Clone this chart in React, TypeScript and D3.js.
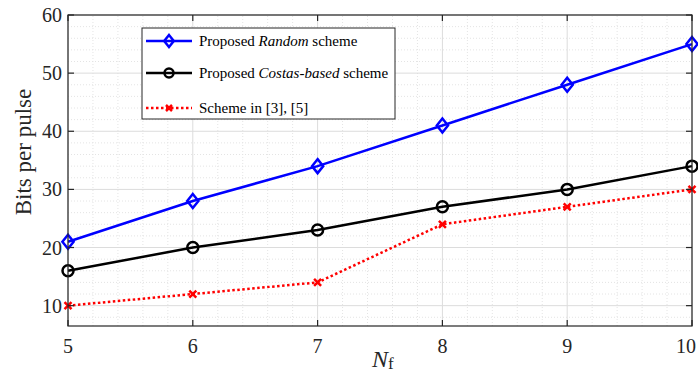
import React from "react";
import * as d3 from "d3";

// x values (N_f)
const nf = [5, 6, 7, 8, 9, 10];
// series
const randomScheme = [21, 28, 34, 41, 48, 55];
const costasScheme = [16, 20, 23, 27, 30, 34];
const refScheme = [10, 12, 14, 24, 27, 30];
const yTicks = [10, 20, 30, 40, 50, 60];

const W = 698;
const H = 375;
const margin = { left: 68, right: 6, top: 15, bottom: 49 };
const font = "Liberation Serif";

const x = d3.scaleLinear().domain([5, 10]).range([margin.left, W - margin.right]);
const y = d3.scaleLinear().domain([6.5, 60]).range([H - margin.bottom, margin.top]);

const line = d3
  .line<number>()
  .x((_, i) => x(nf[i]))
  .y((d) => y(d));

const Diamond = ({ cx, cy, r = 7 }: { cx: number; cy: number; r?: number }) => (
  <path
    d={`M${cx},${cy - r}L${cx + r * 0.8},${cy}L${cx},${cy + r}L${cx - r * 0.8},${cy}Z`}
    fill="none"
    stroke="#0000ff"
    strokeWidth={2.5}
  />
);
const Circle = ({ cx, cy }: { cx: number; cy: number }) => (
  <circle cx={cx} cy={cy} r={5.5} fill="none" stroke="#000" strokeWidth={2.5} />
);
const Cross = ({ cx, cy, r = 3.5 }: { cx: number; cy: number; r?: number }) => (
  <path
    d={`M${cx - r},${cy - r}L${cx + r},${cy + r}M${cx - r},${cy + r}L${cx + r},${cy - r}`}
    stroke="#ff0000"
    strokeWidth={2.5}
  />
);

export default function App() {
  const x0 = margin.left;
  const x1 = W - margin.right;
  const y0 = H - margin.bottom;
  const y1 = margin.top;

  // minor grid lines
  const xMinor = d3.range(5, 10.001, 0.2).filter((v) => Math.abs(v - Math.round(v)) > 0.01);
  const yMinor = d3.range(8, 60, 2).filter((v) => v % 10 !== 0);

  const legendX = 142;
  const legendY = 28;
  const legendRows = [
    { y: 41, kind: "random" },
    { y: 73, kind: "costas" },
    { y: 108, kind: "ref" },
  ];

  return (
    <svg width={W} height={H} style={{ position: "absolute", left: 0, top: 0, background: "#fff", fontFamily: font }}>
      <rect x={0} y={0} width={W} height={H} fill="#fff" />
      {/* minor grid */}
      {xMinor.map((v, i) => (
        <line key={`xm${i}`} x1={x(v)} x2={x(v)} y1={y0} y2={y1} stroke="#e4e4e4" strokeWidth={1} strokeDasharray="1,2" />
      ))}
      {yMinor.map((v, i) => (
        <line key={`ym${i}`} x1={x0} x2={x1} y1={y(v)} y2={y(v)} stroke="#e4e4e4" strokeWidth={1} strokeDasharray="1,2" />
      ))}
      {/* major grid */}
      {nf.map((v) => (
        <line key={`xg${v}`} x1={x(v)} x2={x(v)} y1={y0} y2={y1} stroke="#dcdcdc" strokeWidth={1} />
      ))}
      {yTicks.map((v) => (
        <line key={`yg${v}`} x1={x0} x2={x1} y1={y(v)} y2={y(v)} stroke="#dcdcdc" strokeWidth={1} />
      ))}

      {/* series */}
      <path d={line(refScheme) || ""} fill="none" stroke="#ff0000" strokeWidth={2.5} strokeDasharray="2.5,2.5" />
      <path d={line(costasScheme) || ""} fill="none" stroke="#000" strokeWidth={2.5} />
      <path d={line(randomScheme) || ""} fill="none" stroke="#0000ff" strokeWidth={2.5} />
      {refScheme.map((v, i) => (
        <Cross key={`c${i}`} cx={x(nf[i])} cy={y(v)} />
      ))}
      {costasScheme.map((v, i) => (
        <Circle key={`o${i}`} cx={x(nf[i])} cy={y(v)} />
      ))}
      {randomScheme.map((v, i) => (
        <Diamond key={`d${i}`} cx={x(nf[i])} cy={y(v)} />
      ))}

      {/* axes box and ticks */}
      <rect x={x0} y={y1} width={x1 - x0} height={y0 - y1} fill="none" stroke="#262626" strokeWidth={1.2} />
      {nf.map((v) => (
        <g key={`xt${v}`}>
          <line x1={x(v)} x2={x(v)} y1={y0} y2={y0 - 6} stroke="#262626" strokeWidth={1.2} />
          <line x1={x(v)} x2={x(v)} y1={y1} y2={y1 + 6} stroke="#262626" strokeWidth={1.2} />
          <text x={Math.min(x(v), W - 12)} y={y0 + 27} textAnchor="middle" fontFamily={font} fontSize={20} fill="#262626">
            {v}
          </text>
        </g>
      ))}
      {yTicks.map((v) => (
        <g key={`yt${v}`}>
          <line x1={x0} x2={x0 + 6} y1={y(v)} y2={y(v)} stroke="#262626" strokeWidth={1.2} />
          <line x1={x1} x2={x1 - 6} y1={y(v)} y2={y(v)} stroke="#262626" strokeWidth={1.2} />
          <text x={x0 - 6} y={y(v) + 7} textAnchor="end" fontFamily={font} fontSize={20} fill="#262626">
            {v}
          </text>
        </g>
      ))}

      {/* axis labels */}
      <text x={372} y={367} fontFamily={font} fontSize={24} fill="#262626">
        <tspan fontStyle="italic">N</tspan>
        <tspan fontSize={17} dy={2}>f</tspan>
      </text>
      <text
        transform={`translate(31,152) rotate(-90)`}
        textAnchor="middle"
        fontFamily={font}
        fontSize={23}
        fill="#262626"
      >
        Bits per pulse
      </text>

      {/* legend */}
      <rect x={legendX} y={legendY} width={253} height={91} fill="#fff" stroke="#262626" strokeWidth={1} />
      {legendRows.map((r) => {
        const lx0 = 146;
        const lx1 = 192;
        const cx = (lx0 + lx1) / 2;
        if (r.kind === "random")
          return (
            <g key={r.kind}>
              <line x1={lx0} x2={lx1} y1={r.y} y2={r.y} stroke="#0000ff" strokeWidth={2.5} />
              <Diamond cx={cx} cy={r.y} r={6} />
              <text x={199} y={r.y + 5} fontFamily={font} fontSize={15} fill="#000">
                Proposed <tspan fontStyle="italic">Random</tspan> scheme
              </text>
            </g>
          );
        if (r.kind === "costas")
          return (
            <g key={r.kind}>
              <line x1={lx0} x2={lx1} y1={r.y} y2={r.y} stroke="#000" strokeWidth={2.5} />
              <circle cx={cx} cy={r.y} r={4.5} fill="none" stroke="#000" strokeWidth={2.5} />
              <text x={199} y={r.y + 5} fontFamily={font} fontSize={15} fill="#000">
                Proposed <tspan fontStyle="italic">Costas-based</tspan> scheme
              </text>
            </g>
          );
        return (
          <g key={r.kind}>
            <line x1={lx0} x2={lx1} y1={r.y} y2={r.y} stroke="#ff0000" strokeWidth={2.5} strokeDasharray="2.5,2.5" />
            <Cross cx={cx} cy={r.y} r={3} />
            <text x={199} y={r.y + 5} fontFamily={font} fontSize={15} fill="#000">
              Scheme in [3], [5]
            </text>
          </g>
        );
      })}
    </svg>
  );
}
